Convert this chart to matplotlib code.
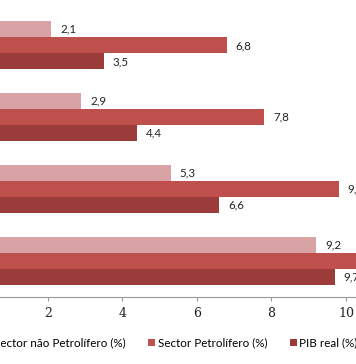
import numpy as np
import matplotlib
matplotlib.use('Agg')
import matplotlib.pyplot as plt
from matplotlib.patches import Patch

# data (groups top to bottom)
categories = ['2012', '2013', '2014', '2015']
nao_petrolifero = [2.1, 2.9, 5.3, 9.2]
petrolifero = [6.8, 7.8, 9.8, 10.9]
pib_real = [3.5, 4.4, 6.6, 9.7]
series_names = ['Sector não Petrolífero (%)', 'Sector Petrolífero (%)', 'PIB real (%)']
xticks = [0, 2, 4, 6, 8, 10, 12]

colors = ['#d9a3a5', '#c0504d', '#9b3c3a']

fig = plt.figure(figsize=(3.56, 3.64), dpi=100)
# axes extend beyond the canvas, chart is a crop
ax = fig.add_axes([-26.9/356, (364-297)/364, 12*37.3/356, (297-9.5)/364])

y = np.arange(len(categories))
h = 0.223
all_series = [nao_petrolifero, petrolifero, pib_real]
offsets = [-h, 0, h]
for vals, off, col in zip(all_series, offsets, colors):
    ax.barh(y + off, vals, height=h, color=col, edgecolor='none')
    for yi, v in zip(y, vals):
        ax.text(v + 0.24, yi + off, ('%.1f' % v).replace('.', ','),
                va='center', ha='left', fontsize=8.3, family='Lato', color='#222222',
                bbox=dict(facecolor='white', edgecolor='none', pad=0.6))

ax.set_ylim(len(categories) - 0.5, -0.5)
ax.set_xlim(0, 12)
ax.set_yticks(y)
ax.set_yticklabels(categories)
ax.set_xticks(xticks)
ax.set_xticklabels([str(t) for t in xticks], family='DejaVu Serif', fontsize=9)
for s in ['top', 'right', 'left']:
    ax.spines[s].set_visible(False)
ax.spines['bottom'].set_color('#9a9a9a')
ax.tick_params(axis='x', length=3, color='#9a9a9a', pad=4, labelcolor='#222222')
ax.tick_params(axis='y', length=0)

handles = [Patch(facecolor=c, edgecolor='none') for c in colors]
fig.legend(handles, series_names, loc='center', ncol=3,
           bbox_to_anchor=(171/356, 1 - 343/364), frameon=False,
           prop={'family': 'Lato', 'size': 8.4},
           handlelength=0.6, handleheight=0.6, handletextpad=0.25,
           columnspacing=1.9)

fig.savefig('out.png', dpi=100)
